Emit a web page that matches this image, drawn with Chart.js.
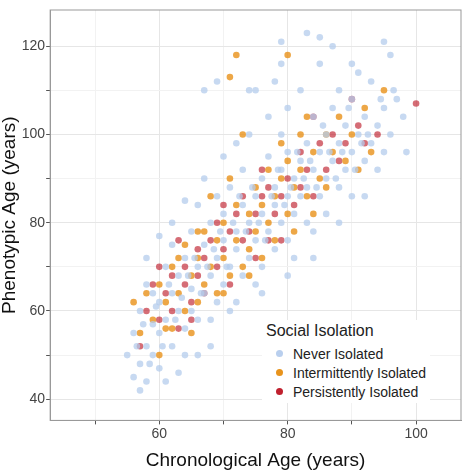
<!DOCTYPE html>
<html><head><meta charset="utf-8">
<script src="https://cdn.jsdelivr.net/npm/chart.js@4"></script>
<style>
body{margin:0;background:#fff;font-family:"Liberation Sans",Arial,sans-serif}
#wrap{position:relative;width:465px;height:474px}
#legend{position:absolute;left:262px;top:320px;background:#fff;padding:2px 4px;font-size:14px;color:#222}
#legend .t{font-size:16px;margin-bottom:4px}
#legend .r{display:flex;align-items:center;height:19px;padding-left:10px}
#legend .d{width:7px;height:7px;border-radius:50%;margin-right:10px}
</style></head><body>
<div id="wrap"><canvas id="c" width="465" height="474"></canvas>
<div id="legend"><div class="t">Social Isolation</div>
<div class="r"><span class="d" style="background:#b9cfee"></span>Never Isolated</div>
<div class="r"><span class="d" style="background:#e8931c"></span>Intermittently Isolated</div>
<div class="r"><span class="d" style="background:#c0202e"></span>Persistently Isolated</div></div></div>
<script>
const neverIsolated = [[55,50],[56,45],[56,55],[57,48],[57,60],[58,52],[58,44],[58,66],[59,57],[59,50],[60,62],[60,47],[60,55],[61,70],[61,58],[62,52],[62,64],[62,75],[63,60],[63,68],[64,56],[64,72],[64,50],[65,65],[65,78],[65,60],[66,70],[66,58],[66,84],[67,75],[67,64],[67,90],[68,68],[68,80],[68,58],[69,72],[69,86],[69,62],[70,76],[70,66],[70,95],[70,82],[71,70],[71,88],[71,60],[72,78],[72,74],[72,98],[73,84],[73,68],[73,92],[74,80],[74,72],[74,100],[75,86],[75,76],[75,66],[75,110],[76,90],[76,82],[76,70],[77,95],[77,78],[77,104],[78,88],[78,74],[78,84],[79,92],[79,80],[79,100],[79,116],[80,86],[80,76],[80,96],[80,106],[81,90],[81,82],[81,72],[82,94],[82,86],[82,110],[83,98],[83,80],[83,88],[84,92],[84,104],[84,78],[85,96],[85,86],[85,116],[86,100],[86,90],[86,82],[87,94],[87,106],[87,120],[88,98],[88,88],[88,110],[89,102],[89,92],[90,96],[90,108],[90,86],[91,100],[91,114],[92,104],[92,94],[93,98],[93,112],[94,102],[94,92],[95,106],[95,96],[96,100],[96,118],[97,108],[98,104],[63,46],[61,44],[66,50],[68,52],[72,62],[76,64],[80,68],[84,72],[88,80],[92,86],[59,64],[57,42],[85,122],[83,123],[79,121],[67,110],[69,112],[95,121],[62,80],[64,85],[58,72],[60,77],[74,110],[78,112],[90,116],
  [56.5,52],[57.5,57],[58.5,48],[59.5,61],[60.5,52],[61.5,66],[62.5,58],[63.5,63],[64.5,68],[65.5,72],[66.5,64],[67.5,70],[68.5,74],[69.5,78],[70.5,70],[71.5,80],[72.5,86],[73.5,78],[74.5,88],[75.5,80],[76.5,76],[77.5,86],[78.5,92],[79.5,84],[80.5,88],[81.5,96],[82.5,90],[83.5,94],[84.5,88],[85.5,102],[86.5,96],[87.5,90],[88.5,96],[89.5,106],[90.5,92],[91.5,98],[92.5,100],[94.5,108],[96.5,110],[98.5,96]];
const intermittentlyIsolated = [[56,62],[57,55],[58,64],[59,58],[60,50],[60,66],[61,62],[62,56],[62,70],[63,64],[64,60],[64,75],[65,68],[65,55],[66,72],[66,62],[67,78],[67,66],[68,70],[68,86],[69,64],[69,76],[70,72],[70,80],[71,68],[71,90],[72,76],[72,84],[73,70],[73,100],[74,82],[74,74],[75,78],[75,88],[76,84],[76,72],[77,80],[77,92],[78,86],[78,76],[79,90],[79,98],[80,82],[80,94],[81,88],[81,78],[82,92],[82,100],[83,86],[83,104],[84,96],[84,82],[85,90],[86,100],[86,88],[87,96],[88,104],[89,94],[90,100],[91,92],[92,106],[93,96],[95,110],[72,118],[71,113],[80,118],[63,72],[61,56],[66,78],[70,64],[74,68]];
const persistentlyIsolated = [[57,52],[58,60],[59,66],[60,58],[61,64],[62,60],[62,68],[63,56],[64,66],[64,70],[65,62],[66,68],[66,74],[67,64],[67,72],[68,76],[69,70],[69,80],[70,74],[71,78],[71,66],[72,82],[73,76],[73,86],[74,78],[75,82],[75,72],[76,86],[77,76],[77,88],[78,82],[79,86],[79,76],[80,90],[81,84],[82,88],[82,96],[83,92],[84,86],[85,98],[86,92],[87,100],[88,94],[89,98],[91,102],[92,98],[94,100],[100,107],[65,58],[70,84],[76,92],[84,104],[90,108],[60,70],[63,76]];

const toPts = arr => arr.map(([x, y]) => ({x, y}));
const gridColor = ctx => (ctx.tick && ctx.tick.value % 20 === 0) ? '#e6e6e6' : '#f2f2f2';

new Chart(document.getElementById('c'), {
  type: 'scatter',
  data: { datasets: [
    { data: toPts(neverIsolated), backgroundColor: 'rgba(180,204,236,0.75)', pointRadius: 3.3, borderWidth: 0 },
    { data: toPts(intermittentlyIsolated), backgroundColor: 'rgba(232,145,25,0.8)', pointRadius: 3.3, borderWidth: 0 },
    { data: toPts(persistentlyIsolated), backgroundColor: 'rgba(190,30,45,0.65)', pointRadius: 3.3, borderWidth: 0 }
  ]},
  options: {
    responsive: false, animation: false,
    layout: { padding: { top: 10, right: 2, left: -2 } },
    plugins: { legend: { display: false }, tooltip: { enabled: false } },
    scales: {
      x: { min: 43, max: 107, afterBuildTicks: a => { a.ticks = [50,60,70,80,90,100].map(v => ({value: v})); },
        grid: { color: gridColor, tickLength: 4, tickColor: '#555' }, border: { color: '#999' },
        ticks: { color: '#444', font: { size: 14 }, padding: 1, callback: v => v % 20 === 0 ? v : '' },
        title: { display: true, text: 'Chronological Age (years)', color: '#111', font: { size: 19 }, padding: { top: 6, bottom: 2 } } },
      y: { min: 35.2, max: 128.2, afterBuildTicks: a => { a.ticks = [40,50,60,70,80,90,100,110,120].map(v => ({value: v})); },
        grid: { color: gridColor, tickLength: 4, tickColor: '#555' }, border: { color: '#999' },
        ticks: { color: '#444', font: { size: 14 }, padding: 1, callback: v => v % 20 === 0 ? v : '' },
        title: { display: true, text: 'Phenotypic Age (years)', color: '#111', font: { size: 19 }, padding: 0 } }
    }
  },
  plugins: [{ id: 'frame', afterDraw(ch) { const a = ch.chartArea, c = ch.ctx;
    c.save(); c.strokeStyle = '#999'; c.lineWidth = 1; c.strokeRect(a.left, a.top, a.right - a.left, a.bottom - a.top); c.restore(); } }]
});
</script></body></html>
